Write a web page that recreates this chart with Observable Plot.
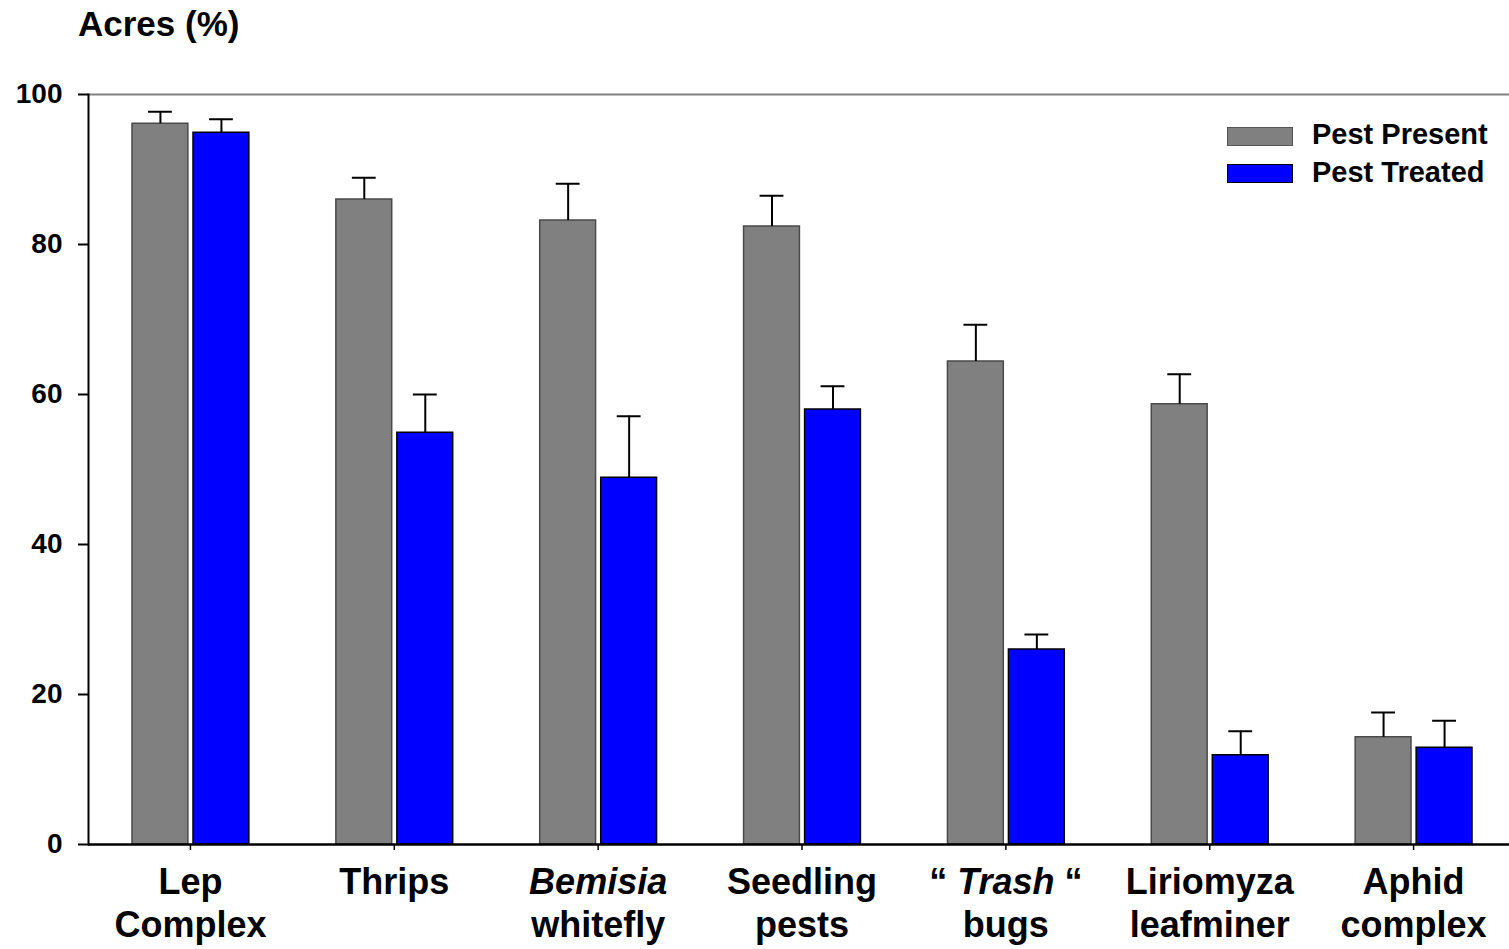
<!DOCTYPE html>
<html>
<head>
<meta charset="utf-8">
<script src="https://cdn.jsdelivr.net/npm/d3@7"></script>
<script src="https://cdn.jsdelivr.net/npm/@observablehq/plot@0.6"></script>
<style>
  html, body { margin: 0; padding: 0; background: white; overflow: hidden; }
  #wrap { position: relative; width: 1509px; height: 949px; font-family: "Liberation Sans", Arial, sans-serif; font-weight: bold; color: black; }
  #title { position: absolute; left: 78px; top: 6px; font-size: 35px; line-height: 35px; white-space: nowrap; }
  #chart { position: absolute; left: 0; top: 60px; }
  .lg-sw { position: absolute; left: 1227px; width: 64px; height: 17px; }
  .lg-tx { position: absolute; left: 1312px; font-size: 29px; line-height: 29px; white-space: nowrap; }
</style>
</head>
<body>
<div id="wrap">
  <div id="title">Acres (%)</div>
  <div id="chart"></div>
  <div class="lg-sw" style="top:127px; background:#808080; border:1px solid #555;"></div>
  <div class="lg-tx" style="top:120px;">Pest Present</div>
  <div class="lg-sw" style="top:164px; background:#0000ff; border:1px solid #000;"></div>
  <div class="lg-tx" style="top:158px;">Pest Treated</div>
</div>
<script>
const categories = ["Lep\nComplex", "Thrips", "Bemisia\nwhitefly", "Seedling\npests", "\u201C Trash \u201C\nbugs", "Liriomyza\nleafminer", "Aphid\ncomplex"];
const present      = [96.1, 86.0, 83.2, 82.4, 64.4, 58.7, 14.3];
const presentUpper = [97.7, 88.9, 88.1, 86.5, 69.3, 62.7, 17.6];
const treated      = [94.9, 54.9, 48.9, 58.0, 26.0, 11.9, 12.9];
const treatedUpper = [96.7, 60.0, 57.1, 61.1, 28.0, 15.1, 16.5];
const yTicks = [0, 20, 40, 60, 80, 100];

const rows = categories.map((c, i) => ({
  category: c,
  present: present[i], presentUpper: presentUpper[i],
  treated: treated[i], treatedUpper: treatedUpper[i]
}));

const plot = Plot.plot({
  width: 1509,
  height: 889,
  marginTop: 34,
  marginBottom: 105,
  marginLeft: 88,
  marginRight: -6,
  style: { fontFamily: "'Liberation Sans', Arial, sans-serif", fontWeight: "bold", color: "black", background: "white" },
  x: { domain: categories, padding: 0, round: false, label: null },
  y: { domain: [0, 100], label: null },
  marks: [
    Plot.ruleY([100], { stroke: "#808080", strokeWidth: 2 }),
    Plot.barY(rows, { x: "category", y: "present", fill: "#808080", stroke: "#4a4a4a", strokeWidth: 1.5, insetLeft: 44, insetRight: 104 }),
    Plot.barY(rows, { x: "category", y: "treated", fill: "#0000ff", stroke: "black", strokeWidth: 1.5, insetLeft: 105, insetRight: 43 }),
    Plot.ruleX(rows, { x: "category", y1: "present", y2: "presentUpper", dx: -30, stroke: "black", strokeWidth: 2 }),
    Plot.tickY(rows, { x: "category", y: "presentUpper", insetLeft: 60, insetRight: 120, stroke: "black", strokeWidth: 2 }),
    Plot.ruleX(rows, { x: "category", y1: "treated", y2: "treatedUpper", dx: 31, stroke: "black", strokeWidth: 2 }),
    Plot.tickY(rows, { x: "category", y: "treatedUpper", insetLeft: 121, insetRight: 59, stroke: "black", strokeWidth: 2 }),
    Plot.ruleY([0], { stroke: "black", strokeWidth: 2.5 }),
    Plot.frame({ anchor: "left", stroke: "black", strokeWidth: 2 }),
    Plot.axisY({ ticks: yTicks, tickSize: 10, tickPadding: 16, fontSize: 28, strokeWidth: 2, label: null }),
    Plot.axisX({ tickSize: 6, tickPadding: 13, fontSize: 36, lineHeight: 1.2, strokeWidth: 1.5, label: null })
  ]
});

document.getElementById("chart").appendChild(plot);

// italicize species / name words inside the category labels
d3.select(plot).selectAll("text").each(function () {
  const t = d3.select(this);
  const spans = t.selectAll("tspan");
  const nodes = spans.empty() ? [this] : spans.nodes();
  nodes.forEach(n => {
    const s = n.textContent;
    if (s === "Bemisia") {
      d3.select(n).attr("font-style", "italic");
    } else if (s === "\u201C Trash \u201C") {
      const el = d3.select(n);
      el.text(null);
      el.append("tspan").text("\u201C ");
      el.append("tspan").attr("font-style", "italic").text("Trash");
      el.append("tspan").text(" \u201C");
    }
  });
});
</script>
</body>
</html>
